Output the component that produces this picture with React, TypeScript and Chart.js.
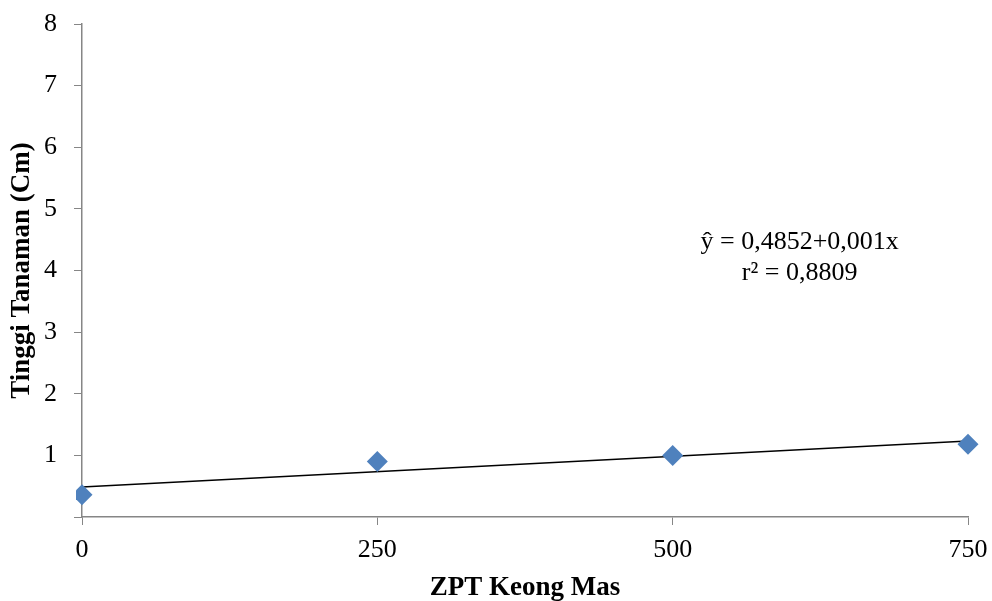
import React, { useEffect, useRef } from "react";
import { Chart, registerables } from "chart.js";

Chart.register(...registerables);

const doses = [0, 250, 500, 750];
const heights = [0.36, 0.9, 1.0, 1.18];
const intercept = 0.4852;
const slope = 0.001;
const yTicks = [1, 2, 3, 4, 5, 6, 7, 8];
const equationLines = ["ŷ = 0,4852+0,001x", "r² = 0,8809"];

const FONT = "'Liberation Serif', 'Times New Roman', serif";
const AXIS = "#868686";

const annotationPlugin = {
  id: "eqText",
  afterDraw(chart: any) {
    const { ctx, chartArea } = chart;
    ctx.save();
    ctx.font = `26px ${FONT}`;
    ctx.fillStyle = "#000";
    ctx.textAlign = "center";
    ctx.textBaseline = "middle";
    const cx = chartArea.left + (chartArea.right - chartArea.left) * 0.81;
    const cy = chartArea.top + 218;
    equationLines.forEach((t, i) => ctx.fillText(t, cx, cy + i * 31));
    ctx.restore();
  },
};

export default function App() {
  const ref = useRef<HTMLCanvasElement>(null);
  useEffect(() => {
    document.body.style.margin = "0";
    const trend = [
      { x: doses[0], y: intercept + slope * doses[0] },
      { x: doses[doses.length - 1], y: intercept + slope * doses[doses.length - 1] },
    ];
    const chart = new Chart(ref.current!, {
      type: "scatter",
      data: {
        datasets: [
          {
            type: "line",
            data: trend,
            borderColor: "#000",
            borderWidth: 1.5,
            pointRadius: 0,
            fill: false,
            order: 2,
          } as any,
          {
            data: doses.map((d, i) => ({ x: d, y: heights[i] })),
            pointStyle: "rectRot",
            pointRadius: 10.5,
            backgroundColor: "#4F81BD",
            borderColor: "#4F81BD",
            borderWidth: 0,
            order: 1,
            clip: { left: 6, right: 20, top: 20, bottom: 20 },
          } as any,
        ],
      },
      options: {
        animation: false,
        responsive: false,
        maintainAspectRatio: false,
        layout: { padding: { top: 24, right: 24, left: 0, bottom: 0 } },
        plugins: { legend: { display: false }, tooltip: { enabled: false } },
        scales: {
          x: {
            type: "linear",
            min: 0,
            max: 750,
            afterBuildTicks: (s: any) => {
              s.ticks = doses.map((v) => ({ value: v }));
            },
            ticks: {
              font: { family: FONT, size: 26 },
              color: "#000",
              padding: 10,
            },
            grid: { drawOnChartArea: false, drawTicks: true, tickLength: 8, color: AXIS },
            border: { color: AXIS, width: 1.5 },
            title: {
              display: true,
              text: "ZPT Keong Mas",
              font: { family: FONT, size: 27, weight: "bold" },
              color: "#000",
              padding: { top: 0, bottom: -3 },
            },
            afterFit: (s: any) => {
              s.height = 84;
              s.paddingLeft = 0;
              s.paddingRight = 0;
            },
          },
          y: {
            type: "linear",
            min: 0,
            max: 8,
            afterBuildTicks: (s: any) => {
              s.ticks = [0, ...yTicks].map((v) => ({ value: v }));
            },
            ticks: {
              font: { family: FONT, size: 26 },
              color: "#000",
              padding: 17,
              callback: (v: any) => (v === 0 ? "" : String(v)),
            },
            grid: { drawOnChartArea: false, drawTicks: true, tickLength: 8, color: AXIS },
            border: { color: AXIS, width: 1.5 },
            title: {
              display: true,
              text: "Tinggi Tanaman (Cm)",
              font: { family: FONT, size: 27, weight: "bold" },
              color: "#000",
              padding: { top: 6, bottom: 0 },
            },
            afterFit: (s: any) => {
              s.width = 82;
              s.paddingTop = 0;
              s.paddingBottom = 0;
            },
          },
        },
      },
      plugins: [annotationPlugin],
    });
    return () => chart.destroy();
  }, []);
  return (
    <div style={{ width: 992, height: 601 }}>
      <canvas ref={ref} width={992} height={601} style={{ display: "block" }} />
    </div>
  );
}
